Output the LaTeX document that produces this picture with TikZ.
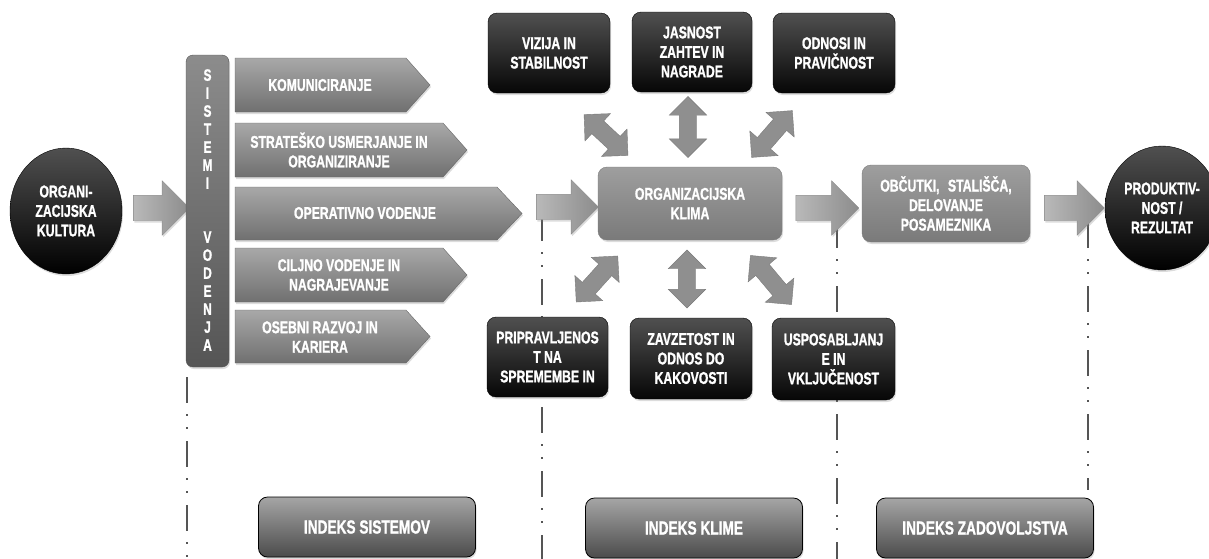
\documentclass[tikz,border=0pt]{standalone}
\usepackage{fontspec}
\setmainfont{Liberation Sans}[FakeStretch=0.72, BoldFeatures={FakeBold=1.2}]
\usetikzlibrary{shapes.geometric,shapes.arrows,shadows}
\definecolor{blkA}{RGB}{80,80,80}
\definecolor{blkB}{RGB}{6,6,6}
\definecolor{pentA}{RGB}{168,168,168}
\definecolor{pentB}{RGB}{112,112,112}
\definecolor{barA}{RGB}{140,140,140}
\definecolor{barB}{RGB}{85,85,85}
\definecolor{klA}{RGB}{158,158,158}
\definecolor{klB}{RGB}{122,122,122}
\definecolor{arA}{RGB}{185,185,185}
\definecolor{arB}{RGB}{140,140,140}
\definecolor{dblA}{RGB}{143,143,143}
\definecolor{idxA}{RGB}{165,165,165}
\definecolor{idxB}{RGB}{75,75,75}
\definecolor{lineC}{RGB}{85,85,85}
\begin{document}
\begin{tikzpicture}[x=1pt,y=-1pt,
  lbl/.style={text=white, font=\bfseries\fontsize{17}{19.5}\selectfont, align=center, inner sep=0pt},
  shad/.style={drop shadow={opacity=0.28,shadow xshift=1pt,shadow yshift=-2pt}},
  blackbox/.style={lbl, shad, rounded corners=9pt, top color=blkA, bottom color=blkB, draw=black, minimum width=122pt, minimum height=80pt},
  graybox/.style={lbl, shad, rounded corners=9pt, top color=klA, bottom color=klB, draw=klB},
  idxbox/.style={lbl, shad, rounded corners=9pt, top color=idxA, bottom color=idxB, draw=black, line width=0.8pt, minimum width=217pt, minimum height=60pt, font=\bfseries\fontsize{19}{21}\selectfont},
  blackcirc/.style={lbl, shad, ellipse, top color=blkA, bottom color=black, draw=black, minimum width=112pt, minimum height=126pt},
  pent/.style={shad, top color=pentA, bottom color=pentB, draw=pentB!90!black, line width=0.4pt},
  rarrow/.style={single arrow, single arrow head extend=14.5pt, inner sep=12.5pt, minimum height=60pt, left color=arA, right color=arB, draw=arB, line width=0.4pt, shad},
  dblarrow/.style={double arrow, double arrow head extend=10pt, inner sep=8.5pt, minimum height=60pt, fill=dblA, draw=dblA!85!black, line width=0.4pt},
  dashline/.style={draw=lineC, line width=1.8pt, dash pattern=on 26pt off 11pt on 2pt off 11pt on 2pt off 12pt}
]
\useasboundingbox (0,0) rectangle (1209,558);

% dash-dot guide lines
\coordinate (g1a) at (187,377); \coordinate (g1b) at (187,560);
\coordinate (g2a) at (542,215); \coordinate (g2b) at (542,560);
\coordinate (g3a) at (837,222); \coordinate (g3b) at (837,560);
\coordinate (g4a) at (1088,222); \coordinate (g4b) at (1088,490);
\draw[dashline] (g1a) -- (g1b);
\draw[dashline] (g2a) -- (g2b);
\draw[dashline] (g3a) -- (g3b);
\draw[dashline] (g4a) -- (g4b);

% left circle
\node[blackcirc] (kult) at (66,211) {ORGANI-\\ZACIJSKA\\KULTURA};

% arrow into bar
\node[rarrow, minimum height=56pt] (a1) at (155,208) {};

% SISTEMI VODENJA bar
\node[lbl, shad, rounded corners=7pt, top color=barA, bottom color=barB, draw=barB, minimum width=43pt, minimum height=312pt] (bar) at (207.5,211) {};
\node[lbl, font=\bfseries\fontsize{16.5}{18}\selectfont] (bartext) at (207.5,210) {S\\I\\S\\T\\E\\M\\I\\[36pt]V\\O\\D\\E\\N\\J\\A};

% pentagons
\newcommand\pentshape[4]{\path[pent] (235,#1) -- (#3,#1) -- (#4,{(#1+#2)/2}) -- (#3,#2) -- (235,#2) -- cycle;}
\pentshape{58}{112}{406}{430}
\pentshape{123}{177}{443}{467}
\pentshape{187}{240}{497}{522}
\pentshape{248}{302}{443}{467}
\pentshape{310}{363}{406}{430}
\node[lbl] (p1) at (320,85) {KOMUNICIRANJE};
\node[lbl] (p2) at (339,150) {STRATEŠKO USMERJANJE IN\\ORGANIZIRANJE};
\node[lbl] (p3) at (365,213) {OPERATIVNO VODENJE};
\node[lbl] (p4) at (339,275) {CILJNO VODENJE IN\\NAGRAJEVANJE};
\node[lbl] (p5) at (320,337) {OSEBNI RAZVOJ IN\\KARIERA};

% arrows into / out of climate
\node[rarrow, minimum height=62pt] (a2) at (561,207) {};
\node[rarrow, minimum height=63pt] (a3) at (821,208) {};
\node[rarrow, minimum height=60pt] (a4) at (1068,208) {};

% climate box
\node[graybox, minimum width=184pt, minimum height=73pt] (klima) at (690,203.5) {ORGANIZACIJSKA\\KLIMA};

% top black boxes
\node[blackbox] (vizija) at (549,53) {VIZIJA IN\\STABILNOST};
\node[blackbox, minimum width=120pt] (jasnost) at (692,52) {JASNOST\\ZAHTEV IN\\NAGRADE};
\node[blackbox] (odnosi) at (834,53) {ODNOSI IN\\PRAVIČNOST};

% bottom black boxes
\node[blackbox, minimum width=121pt] (priprav) at (547.5,357) {PRIPRAVLJENOS\\T NA\\SPREMEMBE IN};
\node[blackbox, minimum height=81pt] (zavzet) at (691,358.5) {ZAVZETOST IN\\ODNOS DO\\KAKOVOSTI};
\node[blackbox, minimum width=123pt, minimum height=82pt] (usposab) at (833.5,359) {USPOSABLJANJ\\E IN\\VKLJUČENOST};

% double arrows
\node[dblarrow, rotate=-43] (d1) at (606,135) {};
\node[dblarrow, rotate=90, minimum height=61pt] (d2) at (688,127) {};
\node[dblarrow, rotate=49, minimum height=62pt] (d3) at (772,134) {};
\node[dblarrow, rotate=48, minimum height=62pt] (d4) at (597,279) {};
\node[dblarrow, rotate=90, minimum height=58pt] (d5) at (687,279) {};
\node[dblarrow, rotate=-50, minimum height=64pt] (d6) at (771,280) {};

% feelings box
\node[graybox, minimum width=168pt, minimum height=77pt] (obcutki) at (946,203.5) {OBČUTKI,\enspace STALIŠČA,\\DELOVANJE\\POSAMEZNIKA};

% right circle
\node[blackcirc, minimum width=114pt, minimum height=124pt] (prod) at (1162,208) {PRODUKTIV-\\NOST /\\REZULTAT};

% index boxes
\node[idxbox] (idx1) at (367,527) {INDEKS SISTEMOV};
\node[idxbox] (idx2) at (694,528) {INDEKS KLIME};
\node[idxbox] (idx3) at (985,528) {INDEKS ZADOVOLJSTVA};
\end{tikzpicture}
\end{document}
